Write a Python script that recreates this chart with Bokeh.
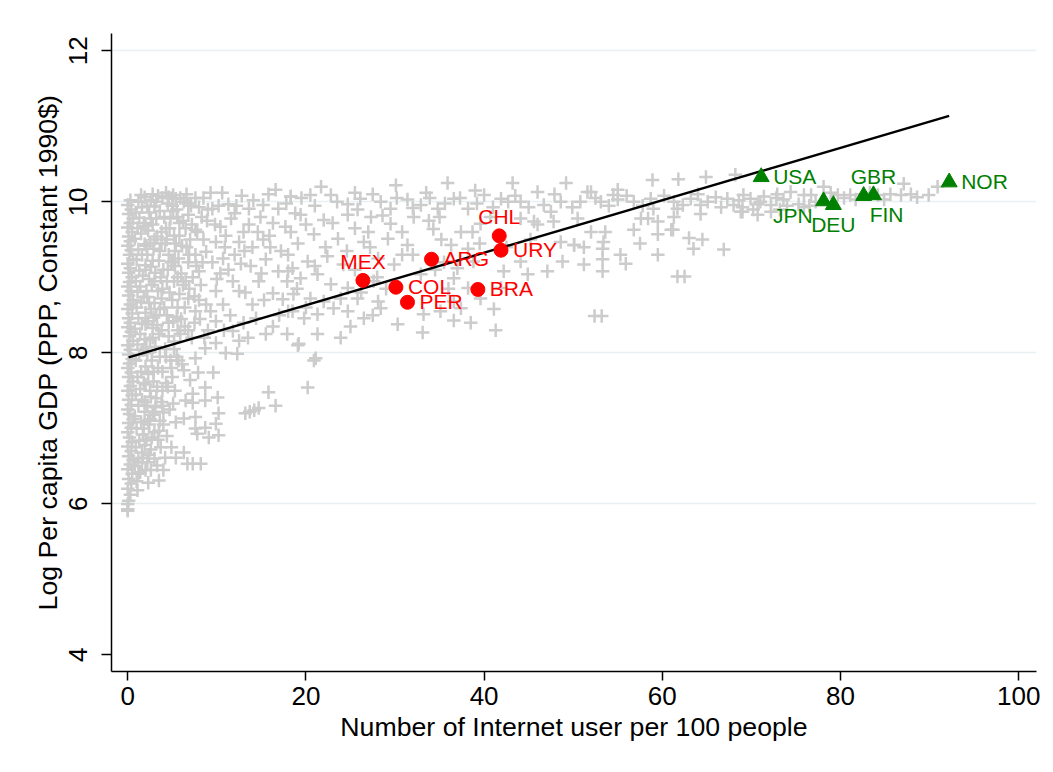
from bokeh.plotting import figure
from bokeh.models import ColumnDataSource, FixedTicker, Range1d
from bokeh.embed import file_html
from bokeh.resources import INLINE
from bokeh.core.properties import value

# ---------------- data ----------------
# gray cloud: (internet users per 100, log GDP per capita)
cloud_band0 = [(0.0,5.93),(0.1,6.04),(0.3,6.12),(0.0,6.2),(0.4,6.27),(0.1,6.33),(0.5,6.4),(0.0,6.46),
               (0.3,6.52),(0.6,6.58),(0.1,6.63),(0.4,6.7),(0.0,6.76),(0.5,6.82),(0.2,6.88),(0.0,6.95),
               (0.4,7.01),(0.1,7.07),(0.6,7.12),(0.2,7.19),(0.0,7.25),(0.4,7.31),(0.1,7.38),(0.5,7.44),
               (0.0,7.5),(0.3,7.56),(0.6,7.62),(0.1,7.68),(0.4,7.74),(0.0,7.8),(0.2,7.86),(0.5,7.92),
               (0.1,7.98),(0.3,8.04),(0.0,8.1),(0.6,8.16),(0.2,8.22),(0.4,8.28),(0.0,8.34),(0.3,8.4),
               (0.1,8.46),(0.5,8.52),(0.0,8.58),(0.3,8.64),(0.6,8.7),(0.1,8.76),(0.4,8.82),(0.0,8.88),
               (0.2,8.94),(0.5,9.0),(0.1,9.06),(0.3,9.12),(0.0,9.18),(0.6,9.24),(0.2,9.3),(0.4,9.36),
               (0.0,9.42),(0.3,9.48),(0.1,9.54),(0.5,9.6),(0.0,9.66),(0.3,9.72),(0.6,9.78),(0.1,9.84),
               (0.4,9.9),(0.0,9.96),(0.3,10.02)]
cloud_band1 = [(1.0,6.3),(1.4,6.42),(0.8,6.5),(1.2,6.6),(1.6,6.68),(0.9,6.75),(1.3,6.84),(1.7,6.92),
               (1.0,7.0),(1.5,7.08),(0.8,7.16),(1.9,7.22),(1.2,7.3),(1.6,7.38),(0.9,7.45),(1.4,7.52),
               (1.8,7.6),(1.1,7.68),(1.5,7.75),(2.0,7.82),(0.9,7.9),(1.3,7.97),(1.7,8.04),(1.1,8.11),
               (1.9,8.18),(1.4,8.25),(0.8,8.32),(1.6,8.39),(1.2,8.46),(2.0,8.53),(1.0,8.6),(1.5,8.67),
               (1.8,8.74),(1.1,8.81),(1.4,8.88),(0.9,8.95),(1.7,9.02),(1.3,9.09),(2.0,9.16),(1.0,9.23),
               (1.6,9.3),(1.2,9.37),(1.9,9.44),(0.8,9.51),(1.5,9.58),(1.1,9.65),(1.8,9.72),(1.3,9.79),
               (0.9,9.86),(1.6,9.93),(1.2,10.0),(1.9,10.06)]
cloud_band1b = [(2.0,6.45),(1.6,6.55),(2.4,6.65),(1.9,6.78),(2.7,6.88),(1.8,7.0),(2.5,7.12),(3.0,7.22),
                (1.9,7.35),(2.6,7.42),(3.3,7.55),(2.0,7.58),(2.9,7.75),(3.6,7.95),(2.1,8.07),(2.8,8.2),
                (3.3,8.37),(2.0,8.38),(2.9,8.47),(3.6,8.58),(2.4,8.66),(3.8,8.72),(2.1,8.82),(3.0,8.95),
                (3.7,9.0),(2.0,9.1),(2.8,9.22),(3.6,9.35),(2.1,9.42),(3.0,9.5),(3.8,9.45),(2.0,9.68),
                (2.6,9.78),(3.6,9.88),(2.2,9.95),(3.2,10.0),(2.8,10.1),(1.5,10.09)]
cloud_band2 = [(2.2,6.55),(2.6,6.72),(2.1,6.85),(3.0,6.95),(2.4,7.05),(2.8,7.18),(2.2,7.3),(3.2,7.4),
               (2.5,7.5),(2.9,7.62),(2.3,7.72),(3.4,7.8),(2.7,7.9),(2.2,8.0),(3.1,8.08),(2.5,8.17),
               (3.5,8.25),(2.8,8.33),(2.3,8.42),(3.2,8.5),(2.6,8.58),(3.0,8.66),(2.2,8.74),(3.4,8.82),
               (2.7,8.9),(2.4,8.98),(3.1,9.06),(2.6,9.14),(3.5,9.22),(2.2,9.3),(2.9,9.38),(2.5,9.46),
               (3.3,9.54),(2.3,9.62),(2.8,9.7),(3.2,9.78),(2.4,9.86),(3.0,9.94),(2.6,10.02),(3.4,10.08)]
cloud_band3 = [(4.0,7.05),(3.8,7.35),(4.5,7.55),(3.9,7.75),(4.8,7.9),(4.2,8.05),(5.2,8.15),(3.8,8.3),
               (4.6,8.4),(5.5,8.48),(4.1,8.6),(5.0,8.7),(3.9,8.85),(4.4,8.95),(5.6,9.0),(4.0,9.1),
               (4.9,9.2),(5.3,9.35),(4.2,9.45),(3.8,9.6),(4.7,9.65),(5.8,9.72),(4.1,9.8),(5.1,9.88),
               (4.5,9.98),(3.9,10.05),(5.4,10.04),(4.3,10.12),(5.5,9.9),(6.2,9.75),(5.8,9.55),(6.6,9.4),
               (5.3,9.15),(6.0,9.05),(6.9,8.85),(5.6,8.6),(6.4,8.35),(7.2,8.2),(5.9,8.25),(7.8,9.6),
               (8.4,9.2),(7.1,9.95),(8.9,9.75),(6.6,10.1),(7.5,8.75),(8.1,8.45),(9.0,8.3),(5.2,8.05)]
cloud_band3b = [(4.6,10.06),(5.0,9.95),(5.9,10.05),(6.8,9.98),(7.6,10.05),(4.8,9.78),(5.6,9.8),(6.5,9.65),
                (7.2,9.7),(4.4,9.5),(5.2,9.55),(6.1,9.42),(7.0,9.5),(4.6,9.3),(5.7,9.25),(6.8,9.2),
                (7.6,9.3),(4.5,9.1),(5.2,8.95),(6.2,8.9),(7.3,9.0),(4.7,8.8),(5.8,8.78),(6.4,8.6),
                (4.4,8.5),(5.1,8.42),(6.0,8.45),(4.6,8.22),(5.6,8.3),(6.8,8.3),(4.3,7.95),(5.5,7.95),
                (4.9,7.8),(6.1,7.85),(4.3,7.6),(5.3,7.5),(3.9,7.3),(4.7,7.25),(3.6,7.1),(4.4,6.9),
                (3.4,6.85),(4.9,6.75),(3.0,6.6),(2.6,6.45),(4.0,6.45)]
cloud_low = [(9.6,7.74),(12.3,7.99),(11.0,8.0),(15.8,7.48),(16.6,7.3),(13.2,7.2),(13.7,7.22),(14.2,7.24),
             (14.7,7.27),(10.1,7.41),(8.7,7.37),(7.3,7.46),(7.3,7.34),(6.3,7.13),(7.6,7.15),(10.2,7.2),
             (9.9,7.06),(8.7,7.01),(7.6,7.0),(10.2,6.91),(9.1,6.88),(7.8,6.93),(3.7,6.75),(6.3,6.68),
             (5.4,6.61),(4.2,6.61),(6.7,6.53),(7.3,6.53),(8.2,6.53),(3.3,6.51),(3.5,6.31),(2.3,6.28),
             (1.1,6.18),(0.0,6.0),(0.0,5.91),(6.5,7.37),(5.1,7.33),(4.0,7.21),(5.4,7.08),(3.5,6.97),
             (8.7,7.54),(7.0,7.64),(6.3,7.77),(7.9,7.74),(5.7,7.9),(7.6,7.93),(8.7,8.06),(9.9,8.13),
             (19.1,8.1),(5.0,7.68),(3.9,7.5),(3.1,7.28),(2.3,7.1),(2.0,6.84),(1.7,6.61),(1.2,6.4),
             (20.9,7.9),(20.2,7.54),(21.1,7.93)]
cloud_left = [(5.1,10.09),(9.3,10.12),(16.6,10.16),(18.3,10.07),(6.3,10.0),(8.0,9.93),(9.5,9.91),
              (11.3,9.97),(13.6,9.91),(15.2,9.96),(16.9,9.91),(6.8,9.83),(4.3,9.65),(7.6,9.63),
              (10.4,9.67),(13.6,9.7),(14.6,9.6),(17.7,9.67),(15.2,9.5),(12.5,9.47),(9.9,9.47),
              (5.4,9.45),(8.8,9.34),(10.7,9.25),(12.7,9.18),(15.5,9.24),(16.9,9.08),(18.5,9.12),
              (8.0,9.08),(11.8,8.95),(14.7,8.95),(16.3,8.79),(12.5,8.82),(9.9,8.82),(6.5,8.95),
              (5.1,9.21),(6.8,8.72),(8.8,8.64),(10.7,8.64),(14.0,8.64),(17.4,8.71),(18.5,8.55),
              (14.4,8.46),(15.5,8.25),(11.8,8.29),(9.9,8.42),(7.6,8.55),(12.5,8.16),(19.2,8.12),
              (12.0,9.85),(14.1,10.02),(11.0,9.55),(13.1,9.35),(16.0,9.4),(10.4,9.05)]
cloud_left_b = [(8.5,10.05),(10.2,9.95),(12.8,10.08),(15.8,10.1),(17.8,9.98),(19.5,10.05),(8.3,9.8),
                (9.8,9.7),(11.6,9.78),(13.0,9.6),(14.9,9.8),(16.3,9.72),(18.8,9.85),(8.5,9.5),
                (10.9,9.4),(12.0,9.3),(14.0,9.4),(15.9,9.55),(17.2,9.35),(19.1,9.45),(9.5,9.2),
                (11.3,9.1),(13.8,9.15),(15.0,9.05),(17.9,8.95),(8.2,8.9),(10.0,8.98),(13.2,8.8),
                (15.3,8.7),(17.0,8.5),(8.0,8.7),(9.3,8.55),(11.5,8.5),(13.0,8.4),(16.3,8.35),
                (10.8,8.3),(13.5,8.2),(17.9,8.25),(7.5,8.4),(8.6,8.2),(9.0,9.9),(10.6,10.12),
                (12.2,9.95),(7.7,9.15),(6.9,9.3)]
cloud_mid = [(18.3,10.07),(20.5,10.09),(22.8,10.09),(24.7,9.97),(26.1,10.04),(28.4,10.0),(29.5,9.91),
             (31.4,10.03),(32.9,9.96),(34.8,9.91),(36.6,10.04),(38.2,9.91),(40.0,10.09),(41.9,10.04),
             (19.4,9.83),(22.0,9.76),(24.7,9.83),(27.3,9.8),(29.5,9.71),(32.1,9.8),(34.3,9.64),
             (37.4,9.6),(39.6,9.71),(18.3,9.6),(20.9,9.57),(23.6,9.51),(26.5,9.47),(29.2,9.51),
             (31.4,9.43),(36.3,9.43),(38.2,9.38),(18.0,9.3),(20.2,9.21),(22.4,9.28),(24.2,9.17),
             (28.1,9.25),(29.9,9.17),(37.0,9.12),(38.8,9.21),(18.0,9.08),(19.4,8.99),(21.3,9.04),
             (22.8,8.91),(24.7,8.86),(27.6,8.95),(32.9,9.04),(36.6,8.99),(38.2,8.86),(18.6,8.78),
             (20.5,8.72),(22.0,8.68),(25.8,8.72),(28.1,8.68),(33.2,8.51),(35.1,8.55),(36.6,8.68),
             (41.1,8.58),(18.0,8.55),(19.8,8.46),(21.3,8.51),(23.1,8.59),(24.7,8.55),(26.5,8.46),
             (28.4,8.59),(30.3,8.38),(21.3,8.25),(23.9,8.2),(33.1,8.27),(41.3,8.3),(36.6,8.43),
             (37.4,8.59),(39.6,8.72),(41.9,8.86),(21.7,10.2),(30.1,10.22),(35.9,10.25),(43.2,10.25),
             (25.5,10.12),(33.5,10.12),(39.0,10.15),(27.0,9.6),(30.8,9.3),(33.8,9.75),(35.5,9.2)]
cloud_mid_b = [(21.0,9.95),(23.5,10.0),(25.8,9.9),(27.5,10.1),(30.2,10.05),(32.0,9.92),(33.9,10.05),
               (35.6,9.98),(37.3,10.05),(39.2,9.98),(41.0,9.93),(20.0,9.7),(23.0,9.72),(25.5,9.65),
               (28.6,9.82),(30.8,9.6),(35.0,9.8),(38.7,9.6),(40.7,9.8),(22.2,9.4),(24.6,9.35),
               (27.2,9.4),(32.0,9.3),(35.2,9.5),(39.5,9.45),(21.0,9.15),(25.5,9.1),(28.0,9.0),
               (34.5,9.1),(19.0,8.85),(23.9,8.72),(26.2,8.8),(29.0,8.85),(36.0,8.85),(20.0,8.6),
               (25.0,8.35),(27.5,8.5),(38.5,8.4)]
cloud_right = [(49.2,10.25),(52.0,10.13),(55.0,10.16),(58.9,10.29),(61.8,10.3),(64.9,10.33),(68.2,10.36),
               (42.2,9.08),(44.1,9.21),(44.9,9.04),(46.0,9.7),(44.1,9.78),(42.7,10.0),(44.1,10.0),
               (46.7,9.96),(48.6,10.0),(50.8,10.0),(53.1,10.0),(55.0,10.03),(56.8,10.0),(58.7,10.04),
               (61.3,10.0),(63.2,10.04),(65.1,10.0),(67.3,10.04),(69.1,10.09),(46.0,10.13),(51.6,10.13),
               (54.5,10.09),(59.0,9.91),(61.7,9.91),(64.3,9.96),(66.6,9.93),(68.0,9.96),(50.5,9.78),
               (52.0,9.6),(53.6,9.6),(50.1,9.43),(51.2,9.4),(53.3,9.38),(48.8,9.21),(51.2,9.17),
               (53.3,9.24),(53.3,9.08),(55.3,9.3),(55.9,9.18),(59.5,9.3),(59.5,9.57),(61.7,9.01),
               (62.5,9.01),(63.0,9.52),(63.5,9.38),(64.5,9.5),(66.9,9.37),(52.4,8.49),(53.2,8.49),
               (58.4,9.78),(59.5,9.74),(61.2,9.63),(69.0,9.87),(70.7,9.83),(72.2,9.87),(47.1,9.08),
               (48.6,9.47),(50.1,9.43),(53.4,9.47),(56.8,9.63),(61.0,9.63),(57.6,9.78),(61.3,9.8),
               (64.3,9.84),(68.8,9.87),(47.8,9.74),(45.6,9.74),(47.5,9.87),(78.1,10.2),(87.1,10.24),
               (90.9,10.2),(89.9,10.09),(87.9,10.1),(85.6,10.1),(81.1,10.09),(79.7,10.09),(75.9,10.09),
               (74.4,10.13),(72.9,10.1),(71.4,10.07),(69.9,10.04),(69.0,9.93),(70.7,9.97),(72.2,9.96),
               (73.6,10.03),(75.3,9.97),(76.7,10.09),(82.6,10.1),(84.2,10.09),(86.8,10.09),(75.9,9.93),
               (71.0,10.0),(72.8,10.05),(74.0,9.95),(77.2,10.0),(80.4,10.05),(84.9,10.03),(88.6,10.06),
               (42.5,9.4),(45.2,9.5),(57.5,9.45)]
cloud_right_b = [(43.5,10.08),(45.0,9.93),(47.9,10.1),(49.9,9.93),(52.5,10.05),(54.0,9.95),(56.0,10.08),
                 (57.8,9.95),(60.2,10.08),(62.3,9.96),(64.0,10.1),(66.0,10.06),(68.6,10.02),(70.2,9.9),
                 (73.2,9.9),(76.5,9.95),(78.9,10.12),(81.7,10.03),(83.3,10.12)]

fit_x = [0.1, 92.2]
fit_y = [7.94, 11.14]

latam_codes = ["MEX", "COL", "PER", "ARG", "CHL", "URY", "BRA"]
latam_x = [26.4, 30.1, 31.4, 34.1, 41.7, 41.9, 39.3]
latam_y = [8.96, 8.87, 8.67, 9.24, 9.55, 9.36, 8.84]

rich_codes = ["USA", "JPN", "DEU", "FIN", "GBR", "NOR"]
rich_x = [71.1, 78.1, 79.2, 82.6, 83.7, 92.2]
rich_y = [10.33, 10.01, 9.96, 10.08, 10.09, 10.26]

x_ticks = [0, 20, 40, 60, 80, 100]
y_ticks = [4, 6, 8, 10, 12]

# label placement (clock position, Stata style)
label_clock = {"MEX": 12, "COL": 3, "PER": 3, "ARG": 3, "CHL": 12, "URY": 3, "BRA": 3,
               "USA": 3, "JPN": 7, "DEU": 6, "FIN": 5, "GBR": 12, "NOR": 3}
clock_style = {12: ("center", 0, -19), 3: ("left", 12, -0.5), 7: ("right", -11, 14),
               6: ("center", 0, 20), 5: ("left", 6, 19)}

FONT = "Liberation Sans"

# ---------------- figure ----------------
p = figure(width=1053, height=772, output_backend="svg", toolbar_location=None,
           x_range=Range1d(-1.82, 102.0), y_range=Range1d(3.78, 12.23),
           min_border_left=111, min_border_right=17, min_border_top=33, min_border_bottom=101)
p.outline_line_color = None
p.background_fill_color = "white"
p.border_fill_color = "white"
p.styles = {"outline": "1px solid #e4ebee", "outline-offset": "-7px"}

p.xgrid.visible = False
p.ygrid.ticker = FixedTicker(ticks=[6, 8, 10, 12])
p.ygrid.grid_line_color = "#e8f0f2"
p.ygrid.grid_line_width = 1.6

for ax in (p.xaxis[0], p.yaxis[0]):
    ax.axis_line_color = "black"
    ax.axis_line_width = 1.5
    ax.major_tick_line_color = "black"
    ax.major_tick_line_width = 1.5
    ax.major_tick_in = 0
    ax.minor_tick_line_color = None
    ax.major_label_text_font = FONT
    ax.major_label_text_font_size = "26px"
    ax.major_label_text_color = "black"
    ax.axis_label_text_font = FONT
    ax.axis_label_text_font_size = "26.7px"
    ax.axis_label_text_font_style = "normal"
    ax.axis_label_text_color = "black"

p.xaxis.ticker = FixedTicker(ticks=x_ticks)
p.xaxis.major_tick_out = 9
p.xaxis.major_label_standoff = 6
p.xaxis.axis_label = "Number of Internet user per 100 people"
p.xaxis.axis_label_standoff = 4

p.yaxis.ticker = FixedTicker(ticks=y_ticks)
p.yaxis.major_tick_out = 10
p.yaxis.major_label_orientation = "vertical"
p.yaxis.major_label_standoff = 14
p.yaxis.axis_label = "Log Per capita GDP (PPP, Constant 1990$)"
p.yaxis.axis_label_standoff = 4

# gray cloud
cloud = (cloud_band0 + cloud_band1 + cloud_band1b + cloud_band2 + cloud_band3 + cloud_band3b +
         cloud_low + cloud_left + cloud_left_b + cloud_mid + cloud_mid_b + cloud_right + cloud_right_b)
cloud_src = ColumnDataSource(dict(x=[c[0] for c in cloud], y=[c[1] for c in cloud]))
p.scatter("x", "y", source=cloud_src, marker="cross", size=13.5, line_color="#cccccc", line_width=2.5)

# fitted line
p.line(fit_x, fit_y, line_color="black", line_width=2.4)

# highlighted countries
p.scatter(latam_x, latam_y, marker="circle", size=14, fill_color="#ff0000", line_color="#ff0000")
p.scatter(rich_x, rich_y, marker="triangle", size=16, fill_color="#008000", line_color="#008000")

def add_labels(codes, xs, ys, color):
    groups = {}
    for c, x, y in zip(codes, xs, ys):
        groups.setdefault(label_clock[c], []).append((c, x, y))
    for clk, items in groups.items():
        align, xo, yo = clock_style[clk]
        src = ColumnDataSource(dict(x=[i[1] for i in items], y=[i[2] for i in items],
                                    t=[i[0] for i in items]))
        p.text("x", "y", text="t", source=src, text_align=align, text_baseline="alphabetic",
               x_offset=xo, y_offset=yo, text_color=color, text_font=value(FONT),
               text_font_size="21px")

add_labels(latam_codes, latam_x, latam_y, "#ff0000")
add_labels(rich_codes, rich_x, rich_y, "#008000")

open("out.html", "w").write(file_html(p, INLINE))
